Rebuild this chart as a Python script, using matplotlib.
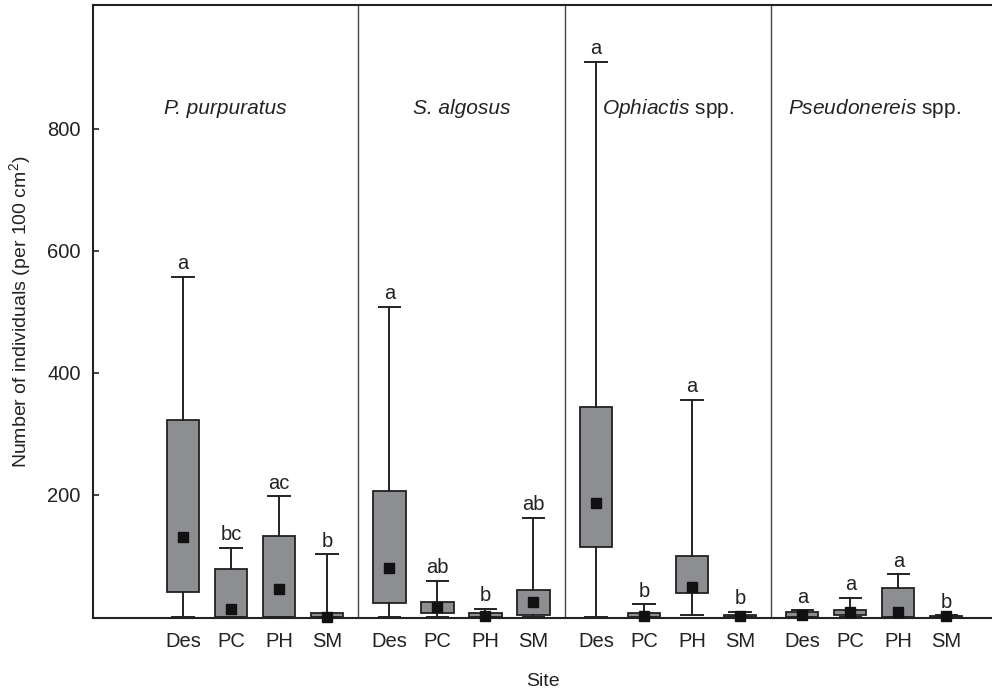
import matplotlib
matplotlib.use("Agg")
import matplotlib.pyplot as plt

plt.rcParams['font.family'] = ['Liberation Sans', 'DejaVu Sans']
plt.rcParams['mathtext.fontset'] = 'custom'
plt.rcParams['mathtext.rm'] = 'Liberation Sans'
plt.rcParams['mathtext.it'] = 'Liberation Sans:italic'

sites = ["Des", "PC", "PH", "SM"]
species = ["P. purpuratus", "S. algosus",
           r"$\mathit{Ophiactis}$ spp.", r"$\mathit{Pseudonereis}$ spp."]
species_italic = [True, True, False, False]

# order: species blocks, each Des, PC, PH, SM
q1 = [41, 0, 0, 0,     23, 7, 0, 3,     114, 0, 39, 0,    0, 4, 0, 0]
q3 = [323, 79, 133, 6, 206, 25, 6, 44,  344, 6, 100, 3,   8, 11, 47, 2]
center = [131, 13, 46, 0, 81, 17, 2, 24, 187, 2, 49, 1,   3, 9, 9, 1]
lo = [0, 0, 0, 0,      0, 0, 0, 0,      0, 0, 4, 0,       0, 0, 0, 0]
hi = [557, 113, 198, 103, 508, 59, 13, 163, 910, 21, 356, 8, 11, 31, 70, 3]
letters = ["a", "bc", "ac", "b", "a", "ab", "b", "ab",
           "a", "b", "a", "b", "a", "a", "a", "b"]

group_step = 4.3
positions = [g * group_step + i for g in range(4) for i in range(4)]
xmin, xmax = -1.875, 16.85

fig = plt.figure(figsize=(9.92, 6.96), dpi=100)
ax = fig.add_axes([93/992, 1 - 618/696, 1 - 93/992, (618 - 5)/696])

stats = []
for k in range(16):
    stats.append(dict(med=center[k], q1=q1[k], q3=q3[k], whislo=lo[k], whishi=hi[k],
                      fliers=[]))

edge = '#222222'
fs = 14.5
ax.bxp(stats, positions=positions, widths=0.67, capwidths=0.45, patch_artist=True,
       showfliers=False,
       boxprops=dict(facecolor='#8d8e92', edgecolor=edge, linewidth=1.3),
       whiskerprops=dict(color=edge, linewidth=1.4),
       capprops=dict(color=edge, linewidth=1.4),
       medianprops=dict(linewidth=0))
ax.plot(positions, center, linestyle='none', marker='s', markersize=7,
        color='#111111', clip_on=False, zorder=5)

for k in range(16):
    ax.text(positions[k], hi[k] + 6, letters[k], ha='center', va='bottom', fontsize=fs,
            color='#222222')

dividers = [g * group_step - 0.65 for g in range(1, 4)]
for d in dividers:
    ax.axvline(d, color='#444444', linewidth=1.0)

bounds = [xmin] + dividers + [3 * group_step + 3.65]
for g in range(4):
    xc = (bounds[g] + bounds[g + 1]) / 2
    ax.text(xc, 834, species[g], ha='center', va='center', fontsize=15,
            color='#222222', style='italic' if species_italic[g] else 'normal')

ax.set_xlim(xmin, xmax)
ax.set_ylim(-1.6, 1003)
ax.set_xticks(positions)
ax.set_xticklabels(sites * 4, fontsize=fs, color='#222222')
ax.set_yticks([200, 400, 600, 800])
ax.set_yticklabels(["200", "400", "600", "800"], fontsize=fs, color='#222222')
ax.tick_params(axis='x', length=0, pad=10)
ax.tick_params(axis='y', direction='in', length=4, width=1.2, pad=9, colors='#222222')
ax.set_xlabel("Site", fontsize=14, color='#222222', labelpad=16)
ax.set_ylabel("Number of individuals (per 100 cm$^2$)", fontsize=14, color='#222222',
              labelpad=10)
ax.spines['right'].set_visible(False)
for s in ['left', 'top', 'bottom']:
    ax.spines[s].set_linewidth(1.5)
    ax.spines[s].set_color('#222222')

fig.savefig("out.png", dpi=100)
